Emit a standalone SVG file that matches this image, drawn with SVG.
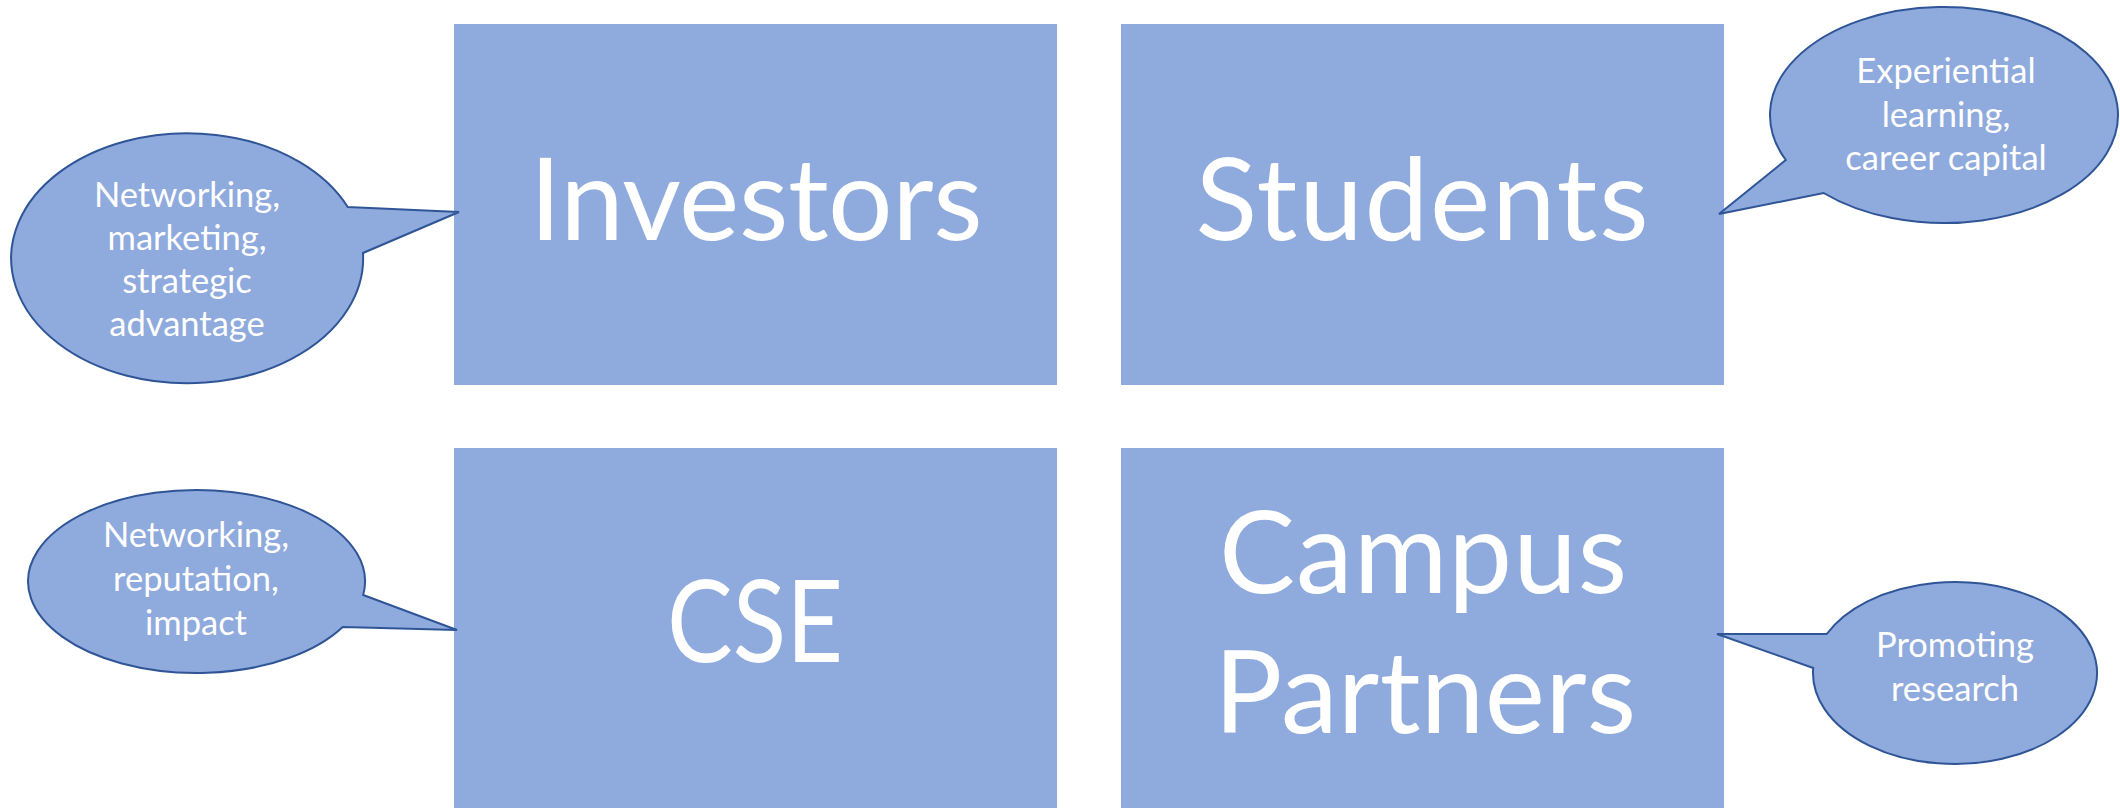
<svg xmlns="http://www.w3.org/2000/svg" width="2120" height="808" viewBox="0 0 2120 808">
<style>
.box{fill:#8FAADC;}
.big{font-family:Lato,"Liberation Sans",sans-serif;font-size:114px;fill:#FFFFFF;text-anchor:middle;}
.call{fill:#8FAADC;stroke:#2F5597;stroke-width:2;stroke-linejoin:miter;}
.small{font-family:Lato,"Liberation Sans",sans-serif;font-size:34.5px;fill:#FFFFFF;text-anchor:middle;}
</style>
<rect width="2120" height="808" fill="#FFFFFF"/>
<g id="investors">
<rect class="box" x="454" y="24" width="603" height="361"/>
<text class="big" x="756" y="240" textLength="453" lengthAdjust="spacing">Investors</text>
</g>
<g id="students">
<rect class="box" x="1121" y="24" width="603" height="361"/>
<text class="big" x="1422" y="240" textLength="453" lengthAdjust="spacing">Students</text>
</g>
<g id="cse">
<rect class="box" x="454" y="448" width="603" height="370"/>
<text class="big" x="755" y="662" textLength="176" lengthAdjust="spacingAndGlyphs">CSE</text>
</g>
<g id="campus-partners">
<rect class="box" x="1121" y="448" width="603" height="370"/>
<text class="big" x="1423" y="593" textLength="408" lengthAdjust="spacing">Campus</text>
<text class="big" x="1425" y="733" textLength="422" lengthAdjust="spacing">Partners</text>
</g>
<g id="connectors">
<g id="callout-investors">
<path class="call" d="M347.7 207 L459 212 L363 253 A176 125 0 1 1 347.7 207 Z"/>
<text class="small" x="187" y="207">Networking,</text>
<text class="small" x="187" y="250">marketing,</text>
<text class="small" x="187" y="293">strategic</text>
<text class="small" x="187" y="336">advantage</text>
</g>
<g id="callout-students">
<path class="call" d="M1785.8 160 L1719 214 L1823.6 193 A174 108 0 1 0 1785.8 160 Z"/>
<text class="small" x="1946" y="83">Experiential</text>
<text class="small" x="1946" y="127">learning,</text>
<text class="small" x="1946" y="170">career capital</text>
</g>
<g id="callout-cse">
<path class="call" d="M363.2 595 L457 630 L342.7 627 A168.5 91.5 0 1 1 363.2 595 Z"/>
<text class="small" x="196" y="547">Networking,</text>
<text class="small" x="196" y="591">reputation,</text>
<text class="small" x="196" y="635">impact</text>
</g>
<g id="callout-campus">
<path class="call" d="M1826.7 634 L1717 634 L1813.2 668 A142 91 0 1 0 1826.7 634 Z"/>
<text class="small" x="1955" y="657">Promoting</text>
<text class="small" x="1955" y="701">research</text>
</g>
</g>
</svg>
